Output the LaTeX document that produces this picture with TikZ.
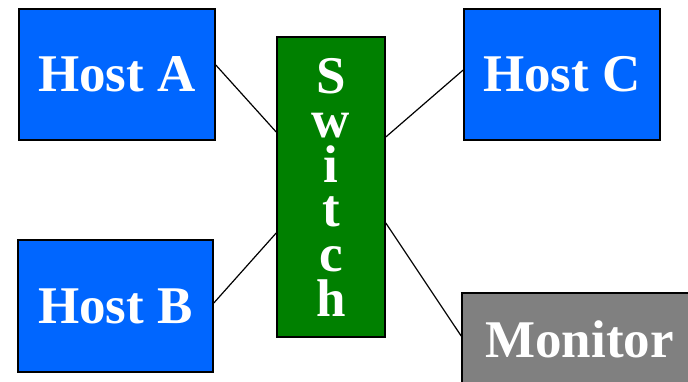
\documentclass[tikz,border=0pt]{standalone}
\usepackage{fontspec}
\setmainfont{Liberation Serif}
\definecolor{hostblue}{HTML}{0066FF}
\definecolor{switchgreen}{HTML}{008000}
\definecolor{mongray}{HTML}{808080}
\begin{document}
\begin{tikzpicture}[x=1pt,y=-1pt,
  box/.style={draw=black,line width=1.6pt,text=white,inner sep=0pt,
    font=\bfseries\fontsize{53}{44.6}\selectfont},
  host/.style={box,fill=hostblue,minimum width=196pt,minimum height=131pt},
  link/.style={draw=black,line width=1.2pt}]
\useasboundingbox (0,0) rectangle (688,381);
\clip (0,0) rectangle (688,381);
\node[host] (hostA) at (117,74.5) {Host A};
\node[host,minimum width=195pt,minimum height=132pt] (hostB) at (115.5,306) {Host B};
\node[host] (hostC) at (562,74.5) {Host C};
\node[box,fill=switchgreen,minimum width=108pt,minimum height=300pt,align=center] (switch) at (331,187) {S\\w\\i\\t\\c\\h};
\node[box,fill=mongray,minimum width=235pt,minimum height=92pt] (monitor) at (579.5,339) {Monitor};
\draw[link] ([yshift=9.5pt]hostA.east) -- ([yshift=55pt]switch.west);
\draw[link] ([yshift=3pt]hostB.east) -- ([yshift=-46pt]switch.west);
\draw[link] ([yshift=4.5pt]hostC.west) -- ([yshift=50pt]switch.east);
\draw[link] ([yshift=3pt]monitor.west) -- ([yshift=-36pt]switch.east);
\end{tikzpicture}
\end{document}
